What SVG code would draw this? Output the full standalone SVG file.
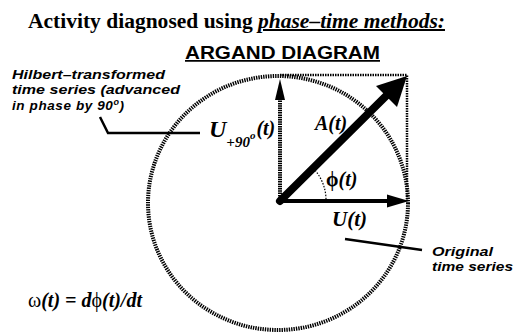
<svg xmlns="http://www.w3.org/2000/svg" width="515" height="332" viewBox="0 0 515 332">
<style>
.serif{font-family:"Liberation Serif","Times New Roman",serif;font-weight:bold;fill:#000}
.sans{font-family:"Liberation Sans",Arial,sans-serif;font-weight:bold;fill:#000}
.it{font-style:italic}
.dotc{fill:none;stroke:#000;stroke-width:4;stroke-dasharray:1.4 1}
.dotr{fill:none;stroke:#000;stroke-width:2.5;stroke-dasharray:1.5 1}
.lead{fill:none;stroke:#000;stroke-width:2.5}
</style>
<g id="title">
<text class="serif" x="28" y="28" font-size="20" textLength="417" lengthAdjust="spacingAndGlyphs">Activity diagnosed using <tspan class="it" text-decoration="underline">phase–time methods:</tspan></text>
</g>
<g id="heading">
<text class="sans" x="185" y="59" font-size="17.5" textLength="195" lengthAdjust="spacingAndGlyphs" text-decoration="underline">ARGAND DIAGRAM</text>
</g>
<g id="circle">
<ellipse class="dotc" cx="278" cy="203" rx="130" ry="127"/>
</g>
<g id="box">
<path class="dotr" d="M280,75 H407 V201"/>
</g>
<g id="connectors">
<line x1="280" y1="201" x2="280" y2="100" stroke="#000" stroke-width="4" stroke-dasharray="1.5 0.8"/>
<path d="M280,79 L285,100 L275,100 Z" fill="#000"/>
<line x1="280" y1="201" x2="389" y2="201" stroke="#000" stroke-width="4"/>
<path d="M409,201 L387,194.5 L387,207.5 Z" fill="#000"/>
<line x1="280" y1="201" x2="388" y2="94" stroke="#000" stroke-width="8" stroke-linecap="round"/>
<path d="M407,76 L397,107 L376,86 Z" fill="#000"/>
<path d="M313,168 A46,46 0 0 1 326,201" fill="none" stroke="#000" stroke-width="1.2" stroke-dasharray="1.5 1.5"/>
<path class="lead" d="M100,117 L108,133 H200"/>
<path class="lead" d="M345,239 L422,250"/>
</g>
<g id="hilbert-label">
<text class="sans it" font-size="13.5" x="12" y="79" textLength="153" lengthAdjust="spacingAndGlyphs">Hilbert–transformed</text>
<text class="sans it" font-size="13.5" x="12" y="94" textLength="168" lengthAdjust="spacingAndGlyphs">time series (advanced</text>
<text class="sans it" font-size="13.5" x="12" y="110" letter-spacing="0.6">in phase by 90<tspan font-size="9" dy="-5">o</tspan><tspan dy="5">)</tspan></text>
</g>
<g id="u90-label">
<text class="serif it" x="209" y="137" font-size="24">U<tspan font-size="15" dy="10">+90</tspan><tspan font-size="11" dy="-8">o</tspan><tspan font-size="20" dy="-4" dx="1">(t)</tspan></text>
</g>
<g id="a-label">
<text class="serif it" x="315" y="130" font-size="20">A(t)</text>
</g>
<g id="phi-label">
<text class="serif" x="326" y="186" font-size="20" font-weight="normal">ϕ<tspan class="it" font-weight="bold">(t)</tspan></text>
</g>
<g id="u-label">
<text class="serif it" x="332" y="226" font-size="21">U(t)</text>
</g>
<g id="original-label">
<text class="sans it" font-size="13.5" x="432" y="256" textLength="61" lengthAdjust="spacingAndGlyphs">Original</text>
<text class="sans it" font-size="13.5" x="432" y="271" textLength="81" lengthAdjust="spacingAndGlyphs">time series</text>
</g>
<g id="omega">
<text class="serif it" x="28" y="307" font-size="20"><tspan font-style="normal" font-weight="normal">ω</tspan>(t) = d<tspan font-style="normal" font-weight="normal">ϕ</tspan>(t)/dt</text>
</g>
</svg>
